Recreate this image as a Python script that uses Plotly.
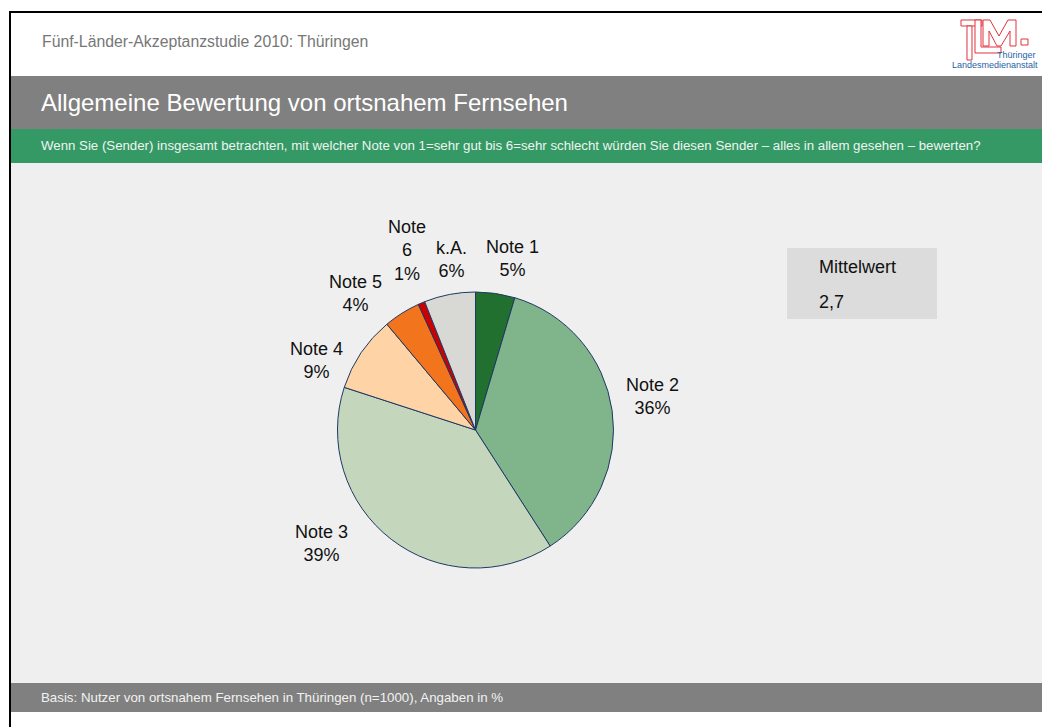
import math
import plotly.graph_objects as go

# ---------------- data ----------------
categories = ["Note 1", "Note 2", "Note 3", "Note 4", "Note 5", "Note 6", "k.A."]
display_labels = ["Note 1", "Note 2", "Note 3", "Note 4", "Note 5", "Note<br>6", "k.A."]
shares = [4.6, 36.3, 39.1, 8.9, 4.3, 0.8, 6.0]
mean_label = "Mittelwert"
mean_value = "2,7"

header_text = "Fünf-Länder-Akzeptanzstudie 2010: Thüringen"
title_text = "Allgemeine Bewertung von ortsnahem Fernsehen"
question_text = ("Wenn Sie (Sender) insgesamt betrachten, mit welcher Note von 1=sehr gut bis "
                 "6=sehr schlecht würden Sie diesen Sender – alles in allem gesehen – bewerten?")
base_text = "Basis: Nutzer von ortsnahem Fernsehen in Thüringen (n=1000), Angaben in %"

# ---------------- style ----------------
W, H = 1042, 727
FONT = "Liberation Sans, Arial, sans-serif"
NARROW = "Liberation Sans Narrow, Liberation Sans, Arial"
slice_colors = ["#217030", "#80b48a", "#c4d7bd", "#fed3a5", "#f2741c", "#cc0000", "#d8d9d5"]
cx, cy, R = 475.5, 430.0, 138.0
label_shift_deg = [4.0, -2.5, 15.8, -10.5, -9.0, 2.1, 2.9]
label_radius = [1.27, 1.305, 1.386, 1.253, 1.315, 1.392, 1.244]


def px(x):
    return x / W


def py(y):
    return 1 - y / H


def rect(x0, y0, x1, y1, fill, line_color=None, line_width=0, layer="below"):
    return dict(type="rect", xref="paper", yref="paper",
                x0=px(x0), x1=px(x1), y0=py(y1), y1=py(y0),
                fillcolor=fill, line=dict(color=line_color or fill, width=line_width),
                layer=layer)


def path(points, fill, line_color, line_width=1):
    d = "M " + " L ".join(f"{px(x):.5f},{py(y):.5f}" for x, y in points) + " Z"
    return dict(type="path", xref="paper", yref="paper", path=d,
                fillcolor=fill, line=dict(color=line_color, width=line_width), layer="above")


fig = go.Figure()

fig.add_trace(go.Pie(
    labels=categories,
    values=shares,
    sort=False,
    direction="clockwise",
    rotation=0,
    textinfo="none",
    hoverinfo="label+percent",
    marker=dict(colors=slice_colors, line=dict(color="#1f3864", width=1)),
    domain=dict(x=[px(cx - R), px(cx + R)], y=[py(cy + R), py(cy - R)]),
    showlegend=False,
))

shapes = [
    rect(11, 13, W, 76, "#ffffff"),
    rect(11, 76, W, 129, "#808080"),
    rect(11, 129, W, 163, "#359966"),
    rect(11, 163, W, 683, "#efefef"),
    rect(11, 683, W, 712, "#808080"),
    rect(9, 11, W, 13, "#000000"),
    rect(9, 11, 11, H, "#000000"),
    rect(787, 248, 937, 319, "#dcdcdc"),
]

# logo (TLM.)
red = "#e0323c"
shapes += [
    path([(961, 20), (982, 20), (982, 26), (961, 26)], "#ffffff", red),
    path([(967, 26), (972, 26), (972, 60), (967, 60)], "#ffffff", red),
    path([(975, 20), (981, 20), (981, 47), (1001, 47), (1001, 53), (975, 53)], "#ffffff", red),
    path([(983, 20), (990, 20), (999, 36), (1008, 20), (1016, 20), (1016, 46),
          (1010, 46), (1010, 31), (1001, 46), (997, 46), (989, 31), (989, 46), (983, 46)],
         "#ffffff", red),
    path([(1021, 39), (1028, 39), (1028, 45), (1021, 45)], "#ffffff", red),
]

annotations = []


def text(x, y, s, size, color, xanchor="left", family=FONT):
    annotations.append(dict(x=px(x), y=py(y), xref="paper", yref="paper", text=s,
                            showarrow=False, xanchor=xanchor, yanchor="middle",
                            font=dict(family=family, size=size, color=color)))


text(40, 41, header_text, 15.8, "#777777")
text(39, 102, title_text, 24, "#ffffff")
text(39, 145, question_text, 13.25, "#eef5f0")
text(39, 697, base_text, 13.3, "#f2f2f2")
text(817, 267, mean_label, 18, "#111111")
text(817, 302, mean_value, 18, "#111111")
text(1038, 55, "Thüringer", 9, "#1f5fa8", xanchor="right", family=NARROW)
text(1040, 65, "Landesmedienanstalt", 9, "#1f5fa8", xanchor="right", family=NARROW)

# slice labels, placed from the slice mid-angles
total = sum(shares)
cum = 0.0
for i, v in enumerate(shares):
    mid = (cum + v / 2) / total * 360.0
    cum += v
    a = math.radians(mid + label_shift_deg[i])
    r = R * label_radius[i]
    lx = cx + r * math.sin(a)
    ly = cy - r * math.cos(a)
    annotations.append(dict(
        x=px(lx), y=py(ly), xref="paper", yref="paper",
        text=f"{display_labels[i]}<br>{v:.0f}%", showarrow=False,
        xanchor="center", yanchor="middle", align="center",
        font=dict(family=FONT, size=18, color="#111111")))

fig.update_layout(
    width=W, height=H,
    margin=dict(l=0, r=0, t=0, b=0),
    paper_bgcolor="#ffffff",
    plot_bgcolor="#ffffff",
    shapes=shapes,
    annotations=annotations,
)

fig.write_html(
    "out.html",
    config={"displayModeBar": False},
    post_script="document.body.style.margin='0';document.body.style.overflow='hidden';",
)
